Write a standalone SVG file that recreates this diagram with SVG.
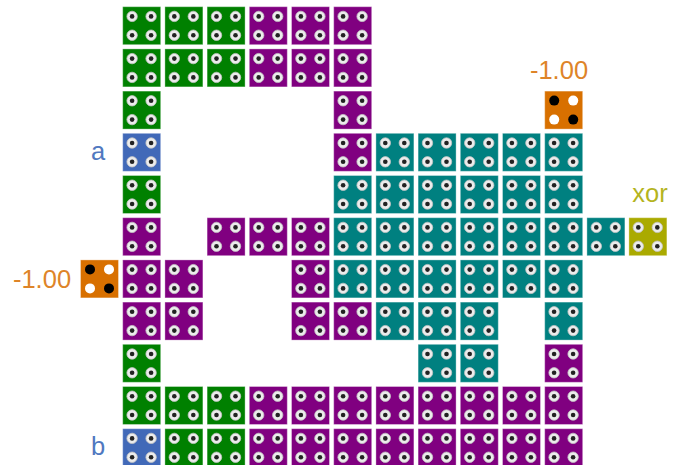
<svg xmlns="http://www.w3.org/2000/svg" width="680" height="465" viewBox="0 0 680 465">
<style>
text{font-family:"Liberation Sans",Arial,sans-serif;font-size:25.5px}
.o{fill:#ececec;stroke:#c4c4c4;stroke-width:.8}
.i{fill:#222}
.g{fill:#008000}.p{fill:#800080}.t{fill:#008080}.b{fill:#4169b8}.y{fill:#aaaa00}.r{fill:#d87000}
rect{stroke:#fff;stroke-opacity:.35;stroke-width:1}
</style>
<defs>
<g id="h"><circle class="o" cx="9.4" cy="9.7" r="5.2"/><circle class="i" cx="9.4" cy="9.7" r="2.3"/><circle class="o" cx="28.4" cy="9.7" r="5.2"/><circle class="i" cx="28.4" cy="9.7" r="2.3"/><circle class="o" cx="9.4" cy="28.5" r="5.2"/><circle class="i" cx="9.4" cy="28.5" r="2.3"/><circle class="o" cx="28.4" cy="28.5" r="5.2"/><circle class="i" cx="28.4" cy="28.5" r="2.3"/></g>
<rect id="c" width="38" height="38"/>
<g id="G"><use href="#c" class="g"/><use href="#h"/></g>
<g id="P"><use href="#c" class="p"/><use href="#h"/></g>
<g id="T"><use href="#c" class="t"/><use href="#h"/></g>
<g id="B"><use href="#c" class="b"/><use href="#h"/></g>
<g id="Y"><use href="#c" class="y"/><use href="#h"/></g>
<g id="R"><use href="#c" class="r"/><circle cx="9.5" cy="9.5" r="5" fill="#000"/><circle cx="28.5" cy="9.5" r="5" fill="#fff"/><circle cx="9.5" cy="28.5" r="5" fill="#fff"/><circle cx="28.5" cy="28.5" r="5" fill="#000"/></g>
</defs>
<g id="connectors"/>
<g id="grid" transform="translate(122.7 6.7)">
<g id="row0"><use href="#G" x="0" y="0"/><use href="#G" x="42.2" y="0"/><use href="#G" x="84.4" y="0"/><use href="#P" x="126.6" y="0"/><use href="#P" x="168.8" y="0"/><use href="#P" x="211" y="0"/></g>
<g id="row1"><use href="#G" x="0" y="42.2"/><use href="#G" x="42.2" y="42.2"/><use href="#G" x="84.4" y="42.2"/><use href="#P" x="126.6" y="42.2"/><use href="#P" x="168.8" y="42.2"/><use href="#P" x="211" y="42.2"/></g>
<g id="row2"><use href="#G" x="0" y="84.4"/><use href="#P" x="211" y="84.4"/></g>
<g id="row3"><use href="#P" x="211" y="126.6"/><use href="#T" x="253.2" y="126.6"/><use href="#T" x="295.4" y="126.6"/><use href="#T" x="337.6" y="126.6"/><use href="#T" x="379.8" y="126.6"/><use href="#T" x="422" y="126.6"/></g>
<g id="row4"><use href="#G" x="0" y="168.8"/><use href="#T" x="211" y="168.8"/><use href="#T" x="253.2" y="168.8"/><use href="#T" x="295.4" y="168.8"/><use href="#T" x="337.6" y="168.8"/><use href="#T" x="379.8" y="168.8"/><use href="#T" x="422" y="168.8"/></g>
<g id="row5"><use href="#P" x="0" y="211"/><use href="#P" x="84.4" y="211"/><use href="#P" x="126.6" y="211"/><use href="#P" x="168.8" y="211"/><use href="#T" x="211" y="211"/><use href="#T" x="253.2" y="211"/><use href="#T" x="295.4" y="211"/><use href="#T" x="337.6" y="211"/><use href="#T" x="379.8" y="211"/><use href="#T" x="422" y="211"/><use href="#T" x="464.2" y="211"/></g>
<g id="row6"><use href="#P" x="0" y="253.2"/><use href="#P" x="42.2" y="253.2"/><use href="#P" x="168.8" y="253.2"/><use href="#T" x="211" y="253.2"/><use href="#T" x="253.2" y="253.2"/><use href="#T" x="295.4" y="253.2"/><use href="#T" x="337.6" y="253.2"/><use href="#T" x="379.8" y="253.2"/><use href="#T" x="422" y="253.2"/></g>
<g id="row7"><use href="#P" x="0" y="295.4"/><use href="#P" x="42.2" y="295.4"/><use href="#P" x="168.8" y="295.4"/><use href="#P" x="211" y="295.4"/><use href="#T" x="253.2" y="295.4"/><use href="#T" x="295.4" y="295.4"/><use href="#T" x="337.6" y="295.4"/><use href="#T" x="422" y="295.4"/></g>
<g id="row8"><use href="#G" x="0" y="337.6"/><use href="#T" x="295.4" y="337.6"/><use href="#T" x="337.6" y="337.6"/><use href="#P" x="422" y="337.6"/></g>
<g id="row9"><use href="#G" x="0" y="379.8"/><use href="#G" x="42.2" y="379.8"/><use href="#G" x="84.4" y="379.8"/><use href="#P" x="126.6" y="379.8"/><use href="#P" x="168.8" y="379.8"/><use href="#P" x="211" y="379.8"/><use href="#P" x="253.2" y="379.8"/><use href="#P" x="295.4" y="379.8"/><use href="#P" x="337.6" y="379.8"/><use href="#P" x="379.8" y="379.8"/><use href="#P" x="422" y="379.8"/></g>
<g id="row10"><use href="#G" x="42.2" y="422"/><use href="#G" x="84.4" y="422"/><use href="#P" x="126.6" y="422"/><use href="#P" x="168.8" y="422"/><use href="#P" x="211" y="422"/><use href="#P" x="253.2" y="422"/><use href="#P" x="295.4" y="422"/><use href="#P" x="337.6" y="422"/><use href="#P" x="379.8" y="422"/><use href="#P" x="422" y="422"/></g>
</g>
<g id="node-a"><g transform="translate(122.7 133.3)"><use href="#B"/></g><text x="98" y="160" text-anchor="middle" fill="#5078c0">a</text></g>
<g id="node-b"><g transform="translate(122.7 428.7)"><use href="#B"/></g><text x="98" y="455" text-anchor="middle" fill="#5078c0">b</text></g>
<g id="node-xor"><g transform="translate(628.9 217.7)"><use href="#Y"/></g><text x="650" y="202" text-anchor="middle" fill="#b4b41e">xor</text></g>
<g id="const-left"><g transform="translate(80.5 259.9)"><use href="#R"/></g><text x="42" y="288" text-anchor="middle" fill="#de8428">-1.00</text></g>
<g id="const-right"><g transform="translate(544.7 91.1)"><use href="#R"/></g><text x="559" y="78.5" text-anchor="middle" fill="#de8428">-1.00</text></g>
</svg>
